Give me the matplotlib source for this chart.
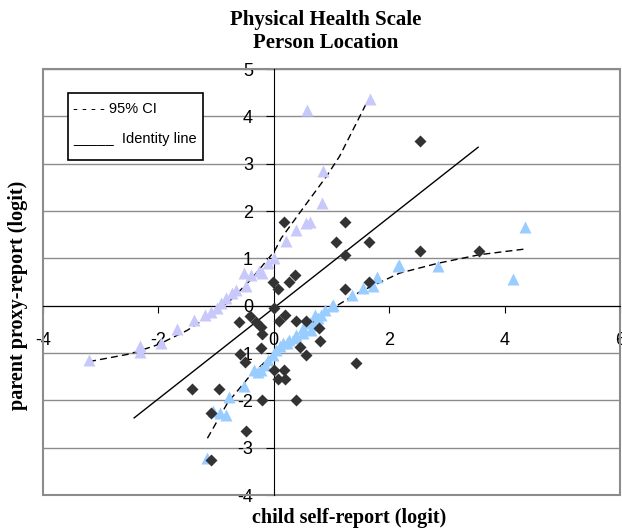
import matplotlib
matplotlib.use("Agg")
import matplotlib.pyplot as plt
from matplotlib.patches import Rectangle

plt.rcParams['axes.unicode_minus'] = False

# parent under-estimates (upper band)
upper_x = [-3.2, -2.31, -2.31, -1.95, -1.67, -1.38, -1.2, -1.08, -0.99, -0.91, -0.82, -0.73,
           -0.65, -0.51, -0.48, -0.39, -0.25, -0.21, -0.10, 0.01, 0.21, 0.39, 0.56, 0.63,
           0.84, 0.85, 0.58, 1.66]
upper_y = [-1.15, -0.85, -0.98, -0.78, -0.49, -0.30, -0.19, -0.13, -0.04, 0.06, 0.17, 0.27,
           0.34, 0.70, 0.41, 0.66, 0.73, 0.70, 0.91, 1.01, 1.36, 1.61, 1.75, 1.78,
           2.17, 2.84, 4.14, 4.36]

# lower band
lower_x = [-1.15, -1.06, -0.94, -0.83, -0.77, -0.51, -0.34, -0.28, -0.22, -0.16, -0.10, -0.01,
           0.04, 0.10, 0.16, 0.22, 0.27, 0.36, 0.39, 0.50, 0.50, 0.62, 0.65, 0.71, 0.71,
           0.76, 0.82, 0.88, 1.0, 1.02, 1.36, 1.55, 1.72, 1.79, 2.15, 2.17, 2.85, 4.14, 4.36]
lower_y = [-3.22, -2.23, -2.27, -2.30, -1.92, -1.70, -1.35, -1.39, -1.35, -1.25, -1.14, -1.04,
           -0.93, -0.86, -0.79, -0.79, -0.72, -0.68, -0.61, -0.58, -0.47, -0.37, -0.51, -0.40,
           -0.19, -0.26, -0.19, -0.10, -0.01, 0.02, 0.22, 0.37, 0.41, 0.61, 0.83, 0.86, 0.83,
           0.57, 1.66]

# within CI
mid_x = [2.54, 1.23, 0.17, 1.07, 1.65, 1.23, 2.54, 3.56, 1.23, 1.65, 0.36, 0.26, -0.02, 0.07,
         0.0, 0.19, -0.41, -0.60, -0.30, -0.22, -0.20, 0.09, 0.38, 0.55, 0.79, 0.80, -0.22,
         0.45, 0.56, -0.58, -0.50, 1.42, 0.0, 0.17, 0.08, 0.19, -1.42, -0.95, -0.20, 0.38,
         -1.08, -1.09, -0.49]
mid_y = [3.49, 1.77, 1.77, 1.34, 1.34, 1.08, 1.15, 1.15, 0.36, 0.51, 0.66, 0.51, 0.51, 0.35,
         -0.05, -0.19, -0.21, -0.35, -0.35, -0.45, -0.60, -0.33, -0.33, -0.33, -0.47, -0.75,
         -0.89, -0.87, -1.04, -1.02, -1.18, -1.20, -1.35, -1.35, -1.54, -1.55, -1.75, -1.75,
         -1.99, -1.99, -2.27, -3.26, -2.64]

identity_x = [-2.42, 3.54]
identity_y = [-2.37, 3.35]

ci_up_x = [-3.2, -2.5, -2.0, -1.5, -1.0, -0.74, -0.4, 0.01, 0.13, 0.5, 0.91, 1.14, 1.63]
ci_up_y = [-1.18, -1.02, -0.82, -0.52, -0.12, 0.13, 0.55, 1.15, 1.43, 2.05, 2.73, 3.16, 4.34]

ci_lo_x = [-1.15, -0.8, -0.42, -0.02, 0.4, 1.02, 1.5, 2.18, 2.85, 3.57, 4.36]
ci_lo_y = [-2.80, -2.05, -1.49, -1.04, -0.60, -0.05, 0.30, 0.69, 0.90, 1.08, 1.20]

fig = plt.figure(figsize=(6.22, 5.32), dpi=100)
ax = fig.add_axes([0.069, 0.0695, 0.928, 0.8005])
ax.set_xlim(-4, 6)
ax.set_ylim(-4, 5)

ax.set_yticks(range(-4, 6))
ax.set_xticks([-4, -2, 0, 2, 4, 6])
ax.yaxis.grid(True, color='#8c8c8c', lw=1.0)
ax.set_axisbelow(True)

for s in ['top', 'right']:
    ax.spines[s].set_visible(False)
ax.spines['left'].set_position(('data', 0))
ax.spines['bottom'].set_position(('data', 0))
ax.spines['left'].set_zorder(3)
ax.spines['bottom'].set_zorder(3)
ax.add_patch(Rectangle((0, 0), 1, 1, transform=ax.transAxes, fill=False,
                       edgecolor='#8c8c8c', lw=1.5, clip_on=False, zorder=1))

ax.tick_params(axis='y', direction='out', length=6, pad=9, labelsize=13)
ax.tick_params(axis='x', direction='out', length=5, pad=14, labelsize=13)
for t in ax.get_xticklabels() + ax.get_yticklabels():
    t.set_fontfamily('Liberation Sans')

ax.plot(ci_up_x, ci_up_y, color='black', lw=1, ls=(0, (5, 3)), zorder=4)
ax.plot(ci_lo_x, ci_lo_y, color='black', lw=1, ls=(0, (5, 3)), zorder=4)
ax.plot(identity_x, identity_y, color='black', lw=1, zorder=4)

ax.plot(upper_x, upper_y, '^', color='#c8c8fa', ms=9, mec='none', zorder=5)
ax.plot(lower_x, lower_y, '^', color='#99ccff', ms=9, mec='none', zorder=5)
ax.plot(mid_x, mid_y, 'D', color='#333333', ms=6, mec='none', zorder=6)

# legend box drawn as text like the original
fig.add_artist(Rectangle((68 / 622, 1 - 160 / 532), 135 / 622, 67 / 532,
                         transform=fig.transFigure, fill=True, facecolor='white',
                         edgecolor='black', lw=1.2, zorder=10))
fig.text(73 / 622, 1 - 109 / 532, '- - - - 95% CI', fontsize=10.5, family='Liberation Sans',
         va='center', ha='left', zorder=11)
fig.text(73 / 622, 1 - 139 / 532, '_____  Identity line', fontsize=10.5,
         family='Liberation Sans', va='center', ha='left', zorder=11)

fig.text(326 / 622, 1 - 20 / 532, 'Physical Health Scale', fontsize=15, weight='bold',
         family='Liberation Serif', ha='center', va='center')
fig.text(326 / 622, 1 - 43 / 532, 'Person Location', fontsize=15, weight='bold',
         family='Liberation Serif', ha='center', va='center')
fig.text(349 / 622, 1 - 518 / 532, 'child self-report (logit)', fontsize=14.5, weight='bold',
         family='Liberation Serif', ha='center', va='center')
fig.text(18 / 622, 1 - 295 / 532, 'parent proxy-report (logit)', fontsize=14.5, weight='bold',
         family='Liberation Serif', ha='center', va='center', rotation=90)

plt.savefig('out.png', dpi=100)
